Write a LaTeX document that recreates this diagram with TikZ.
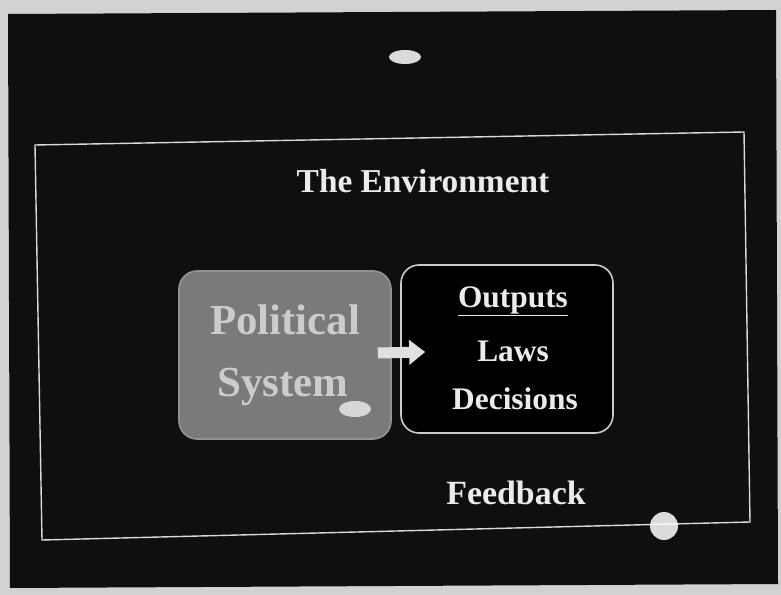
\documentclass[tikz,border=0pt]{standalone}
\usepackage{fontspec}
\setmainfont{Liberation Serif}
\usetikzlibrary{arrows.meta,calc}
\begin{document}
\begin{tikzpicture}[x=1bp,y=-1bp,
  lbl/.style={text=white!92!black,font=\bfseries\fontsize{33.5}{36}\selectfont,inner sep=0},
  outl/.style={lbl,font=\bfseries\fontsize{31.5}{34}\selectfont},
  psl/.style={lbl,text=white!80!black,font=\bfseries\fontsize{43}{46}\selectfont},
  boxbase/.style={rounded corners=18bp,line width=1.6bp,minimum width=212bp,minimum height=168bp},
  glare/.style={fill=white,opacity=0.85}]
\useasboundingbox (0,0) rectangle (781,595);
\fill[gray!35] (0,0) rectangle (781,595);
\fill[black!94] (8,14) -- (776,10) -- (778,584) -- (10,588) -- cycle;
% outer frame
\draw[white!85!black,line width=1.4bp] (35,145) -- (744,132) -- (750,522) -- (42,540) -- cycle;
% glare artifacts
\fill[glare] (405,57) ellipse (16 and 7);
\fill[glare] (664,526) circle (14);
% texts
\node[lbl] (env) at (423,181) {The Environment};
\node[boxbase,draw=gray!85,fill=black!52] (ps) at (285,355) {};
\node[psl] (pol) at (285,320) {Political};
\node[psl] (sys) at (283,387) {System};
\fill[glare,opacity=0.7] (355,409) ellipse (16 and 8);
\node[boxbase,draw=white!80!black,fill=black] (out) at (507,349) {};
\node[outl] (o1) at (513,301) {\underline{Outputs}};
\node[outl] (o2) at (513,351) {Laws};
\node[outl] (o3) at (515,399) {Decisions};
\node[lbl,font=\bfseries\fontsize{34}{36}\selectfont] (fb) at (516,493) {Feedback};
% arrow
\draw[white!88!black,line width=11bp,-{Triangle[length=16bp,width=24bp]}]
  ($(ps.east)+(-14,-2)$) -- ($(out.west)+(25,3)$);
\end{tikzpicture}
\end{document}
